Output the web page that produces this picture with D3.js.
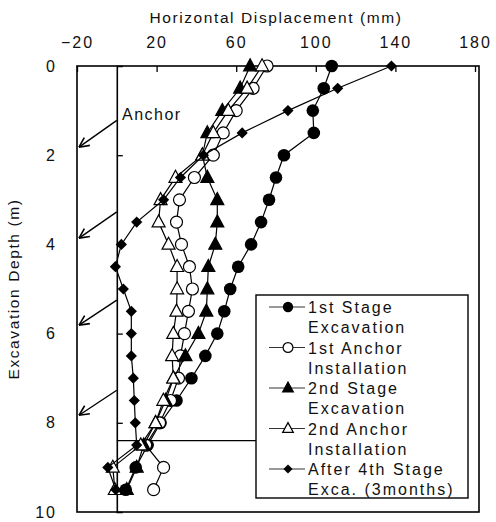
<!DOCTYPE html>
<html>
<head>
<meta charset="utf-8">
<script src="https://cdn.jsdelivr.net/npm/d3@7"></script>
<style>
  html, body { margin: 0; padding: 0; background: #fff; }
  svg text { font-family: "Liberation Sans", Arial, sans-serif; fill: #111; }
</style>
</head>
<body>
<svg id="chart" width="496" height="522"></svg>
<script>
// ---------------- data ----------------
const depths = [0, 0.5, 1, 1.5, 2, 2.5, 3, 3.5, 4, 4.5, 5, 5.5, 6, 6.5, 7, 7.5, 8, 8.5, 9, 9.5];
const stage1Excavation = [108, 104, 98.5, 99, 84, 80, 76.5, 72.5, 67.5, 61, 57, 54, 50.5, 44.5, 37.5, 30, 22, 15.5, 9.5, 4.5];
const anchor1Installation = [75.5, 68.5, 60, 53.5, 48.5, 39, 31.5, 30, 32.5, 36.5, 38, 36, 34, 32, 31, 27, 21.5, 14.5, 23.5, 18.5];
const stage2Excavation = [67, 62, 53, 45.5, 43, 45.5, 50.5, 50.5, 49.5, 46, 45.5, 45, 41, 34.5, 28.5, 24.5, 19.5, 13.5, 10, 5];
const anchor2Installation = [73, 65.5, 56, 48.5, 43, 29.5, 22, 21, 26, 30.3, 30.3, 30, 28.4, 27.8, 28.4, 23.4, 19.5, 12, -2, -1];
const after4thStage = [138, 111, 86, 63, 43.5, 32, 23.5, 10, 2.3, -0.7, 3.3, 7.3, 7.3, 7.3, 8.3, 8.8, 9.3, 10, -4.5, -0.5];

const seriesNames = [["1st Stage", "Excavation"], ["1st Anchor", "Installation"], ["2nd Stage", "Excavation"], ["2nd Anchor", "Installation"], ["After 4th Stage", "Exca. (3months)"]];
const seriesValues = [stage1Excavation, anchor1Installation, stage2Excavation, anchor2Installation, after4thStage];
const seriesSymbols = ["circleFilled", "circleOpen", "triangleFilled", "triangleOpen", "diamond"];

const xTickValues = [-20, 20, 60, 100, 140, 180];
const yTickValues = [0, 2, 4, 6, 8, 10];
const wallTickValues = [2, 4, 6, 8];
const anchorStartDepths = [1.22, 3.27, 5.25, 7.27];
const anchorTipDepths = [1.82, 3.86, 5.81, 7.83];
const excavationBottomDepth = 8.4;

// ---------------- layout ----------------
const svg = d3.select("#chart");
const frame = { left: 77, right: 479, top: 66, bottom: 512 };
const x = d3.scaleLinear().domain([-20, 180]).range([77, 475]);
const y = d3.scaleLinear().domain([0, 10]).range([66, 512]);
const LS = "1.6px";

// frame
svg.append("rect")
  .attr("x", frame.left).attr("y", frame.top)
  .attr("width", frame.right - frame.left).attr("height", frame.bottom - frame.top)
  .attr("fill", "none").attr("stroke", "#000").attr("stroke-width", 1.6);

// top axis
const topAxis = svg.append("g").attr("transform", `translate(0,${frame.top})`)
  .call(d3.axisTop(x).tickValues(xTickValues).tickSize(-6).tickPadding(18).tickFormat(d => d < 0 ? "\u2212" + Math.abs(d) : d));
topAxis.select(".domain").remove();
topAxis.selectAll("line").attr("stroke", "#000").attr("stroke-width", 1.3);
topAxis.selectAll("text").style("font-size", "16px").style("letter-spacing", "2px")
  .style("font-family", "'Liberation Sans', Arial, sans-serif").attr("fill", "#111");

svg.append("text").attr("x", 276).attr("y", 23).attr("text-anchor", "middle")
  .style("font-size", "15.5px").style("letter-spacing", LS)
  .text("Horizontal Displacement (mm)");

// left labels
const leftAxis = svg.append("g").attr("transform", `translate(${frame.left},0)`)
  .call(d3.axisLeft(y).tickValues(yTickValues).tickSize(0).tickPadding(20));
leftAxis.select(".domain").remove();
leftAxis.selectAll("text").style("font-size", "16px").style("letter-spacing", "2px")
  .style("font-family", "'Liberation Sans', Arial, sans-serif").attr("fill", "#111");

svg.append("text").attr("transform", `translate(19,289) rotate(-90)`).attr("text-anchor", "middle")
  .style("font-size", "15.5px").style("letter-spacing", LS)
  .text("Excavation Depth (m)");

// wall line at x = 0 with ticks
const wall = svg.append("g").attr("transform", `translate(${x(0)},0)`)
  .call(d3.axisRight(y).tickValues(wallTickValues).tickSize(6).tickFormat(""));
wall.select(".domain").attr("stroke", "#000").attr("stroke-width", 1.6);
wall.selectAll("line").attr("stroke", "#000").attr("stroke-width", 1.3);

// excavation bottom line
const legendBox = { x: 256, y: 295, w: 212, h: 203 };
svg.append("line")
  .attr("x1", x(0)).attr("x2", legendBox.x)
  .attr("y1", y(excavationBottomDepth)).attr("y2", y(excavationBottomDepth))
  .attr("stroke", "#000").attr("stroke-width", 1.2);

// anchor arrows
const arrowG = svg.append("g");
anchorStartDepths.forEach((d0, i) => {
  const x1 = x(0), y1 = y(d0), x2 = frame.left + 2, y2 = y(anchorTipDepths[i]);
  arrowG.append("line").attr("x1", x1).attr("y1", y1).attr("x2", x2).attr("y2", y2)
    .attr("stroke", "#000").attr("stroke-width", 1.4);
  const ang = Math.atan2(y2 - y1, x2 - x1);
  const L = 11, spread = 0.45;
  [ang + Math.PI - spread, ang + Math.PI + spread].forEach(a => {
    arrowG.append("line").attr("x1", x2).attr("y1", y2)
      .attr("x2", x2 + L * Math.cos(a)).attr("y2", y2 + L * Math.sin(a))
      .attr("stroke", "#000").attr("stroke-width", 1.6);
  });
});
svg.append("text").attr("x", 122).attr("y", 120)
  .style("font-size", "16px").style("letter-spacing", "1.5px").text("Anchor");

// markers
function drawSymbol(g, type, cx, cy, scale) {
  const s = scale || 1;
  if (type === "circleFilled") {
    g.append("circle").attr("cx", cx).attr("cy", cy).attr("r", 6.3 * s).attr("fill", "#000");
  } else if (type === "circleOpen") {
    g.append("circle").attr("cx", cx).attr("cy", cy).attr("r", 6 * s)
      .attr("fill", "#fff").attr("stroke", "#000").attr("stroke-width", 1.2);
  } else if (type === "triangleFilled" || type === "triangleOpen") {
    const w = 6.5 * s, h = 12 * s;
    const pts = [[cx, cy - h * 0.6], [cx + w, cy + h * 0.4], [cx - w, cy + h * 0.4]];
    g.append("polygon").attr("points", pts.map(p => p.join(",")).join(" "))
      .attr("fill", type === "triangleFilled" ? "#000" : "#fff")
      .attr("stroke", "#000").attr("stroke-width", 1.2);
  } else if (type === "diamond") {
    const r = 5.6 * s;
    const pts = [[cx, cy - r], [cx + r, cy], [cx, cy + r], [cx - r, cy]];
    g.append("polygon").attr("points", pts.map(p => p.join(",")).join(" ")).attr("fill", "#000");
  }
}

const line = d3.line().x(d => x(d[0])).y(d => y(d[1]));
seriesValues.forEach((vals, si) => {
  const g = svg.append("g");
  const pts = vals.map((v, i) => [v, depths[i]]);
  g.append("path").attr("d", line(pts)).attr("fill", "none")
    .attr("stroke", "#000").attr("stroke-width", 1.2);
  pts.forEach(p => drawSymbol(g, seriesSymbols[si], x(p[0]), y(p[1])));
});

// legend
const leg = svg.append("g");
leg.append("rect").attr("x", legendBox.x).attr("y", legendBox.y)
  .attr("width", legendBox.w).attr("height", legendBox.h)
  .attr("fill", "#fff").attr("stroke", "#000").attr("stroke-width", 1.4);
seriesNames.forEach((names, i) => {
  const cy = legendBox.y + 12 + i * 40.5;
  leg.append("line").attr("x1", 269).attr("x2", 305).attr("y1", cy).attr("y2", cy)
    .attr("stroke", "#333").attr("stroke-width", 1);
  drawSymbol(leg, seriesSymbols[i], 288, cy, 0.82);
  names.forEach((t, k) => {
    leg.append("text").attr("x", 308).attr("y", cy + 6 + k * 20.3)
      .style("font-size", "16px").style("letter-spacing", "2px").text(t);
  });
});
</script>
</body>
</html>
